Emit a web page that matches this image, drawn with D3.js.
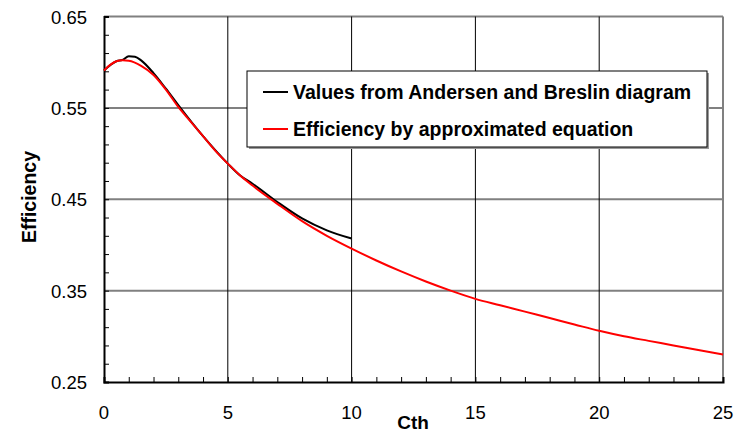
<!DOCTYPE html>
<html>
<head>
<meta charset="utf-8">
<script src="https://cdn.jsdelivr.net/npm/d3@7"></script>
<style>
  body { margin: 0; background: #fff; }
  text { font-family: "Liberation Sans", Arial, sans-serif; }
</style>
</head>
<body>
<svg id="chart" width="735" height="434"></svg>
<script>
// values
const cthBlack = [0, 0.5, 0.75, 1, 1.25, 1.5, 2, 2.5, 3, 4, 5, 5.5, 6, 7, 8, 9, 10];
const effBlack = [0.591, 0.601, 0.6025, 0.6065, 0.606, 0.602, 0.588, 0.571, 0.553, 0.519, 0.489, 0.476, 0.467, 0.447, 0.429, 0.416, 0.407];

const cthRed = [0, 0.25, 0.5, 0.75, 1, 1.5, 2, 2.5, 3, 3.5, 4, 4.5, 5, 5.5, 6, 7, 8, 9, 10, 11, 12, 13, 14, 15, 16, 17, 18, 19, 20, 21, 22, 23, 24, 25];
const effRed = [0.591, 0.597, 0.601, 0.602, 0.6015, 0.596, 0.586, 0.57, 0.551, 0.535, 0.519, 0.503, 0.489, 0.476, 0.465, 0.445, 0.426, 0.41, 0.396, 0.383, 0.371, 0.36, 0.35, 0.341, 0.334, 0.327, 0.32, 0.313, 0.306, 0.3, 0.295, 0.29, 0.285, 0.28];

const xTicks = [0, 5, 10, 15, 20, 25];
const yTicks = [0.25, 0.35, 0.45, 0.55, 0.65];
const legendLabels = ["Values from Andersen and Breslin diagram", "Efficiency by approximated equation"];

const svg = d3.select("#chart");
const margin = { top: 16.5, right: 12, bottom: 52, left: 104 };
const width = 735 - margin.left - margin.right;
const height = 434 - margin.top - margin.bottom;

const g = svg.append("g").attr("transform", `translate(${margin.left}, ${margin.top})`);

const x = d3.scaleLinear().domain([0, 25]).range([0, width]);
const y = d3.scaleLinear().domain([0.25, 0.65]).range([height, 0]);

// horizontal grid (grey)
g.selectAll(".hgrid")
  .data(yTicks.filter(d => d > 0.25))
  .enter()
  .append("line")
  .attr("x1", 0)
  .attr("x2", width)
  .attr("y1", d => y(d))
  .attr("y2", d => y(d))
  .attr("stroke", "#808080")
  .attr("stroke-width", 2);

// vertical grid (black)
g.selectAll(".vgrid")
  .data(xTicks.filter(d => d > 0 && d < 25))
  .enter()
  .append("line")
  .attr("x1", d => x(d))
  .attr("x2", d => x(d))
  .attr("y1", 0)
  .attr("y2", height)
  .attr("stroke", "#000")
  .attr("stroke-width", 1);

// right border
g.append("line")
  .attr("x1", width).attr("x2", width)
  .attr("y1", 0).attr("y2", height)
  .attr("stroke", "#808080")
  .attr("stroke-width", 2);

// axes with inward minor ticks
const xAxis = d3.axisTop(x).ticks(25).tickSize(5).tickFormat("");
const yAxis = d3.axisRight(y).tickValues(d3.range(0, 21).map(i => 0.25 + i * 0.02)).tickSize(5).tickFormat("");

const xAxisGroup = g.append("g").attr("transform", `translate(0, ${height})`).call(xAxis);
const yAxisGroup = g.append("g").call(yAxis);
[xAxisGroup, yAxisGroup].forEach(a => {
  a.select(".domain").attr("stroke", "#000").attr("stroke-width", 2);
  a.selectAll(".tick line").attr("stroke", "#000").attr("stroke-width", 1);
});

// tick labels
g.selectAll(".xlab")
  .data(xTicks)
  .enter()
  .append("text")
  .attr("x", d => x(d))
  .attr("y", height + 37)
  .attr("text-anchor", "middle")
  .attr("font-size", 18.5)
  .text(d => d);

g.selectAll(".ylab")
  .data(yTicks)
  .enter()
  .append("text")
  .attr("x", -17)
  .attr("y", d => y(d) + 7)
  .attr("text-anchor", "end")
  .attr("font-size", 18.5)
  .text(d => d.toFixed(2));

// axis titles
svg.append("text")
  .attr("x", 413)
  .attr("y", 429)
  .attr("text-anchor", "middle")
  .attr("font-size", 19)
  .attr("font-weight", "bold")
  .text("Cth");

svg.append("text")
  .attr("transform", "translate(36, 197) rotate(-90)")
  .attr("text-anchor", "middle")
  .attr("font-size", 19.5)
  .attr("font-weight", "bold")
  .text("Efficiency");

// lines
const line = d3.line()
  .x(d => x(d[0]))
  .y(d => y(d[1]))
  .curve(d3.curveMonotoneX);

g.append("path")
  .attr("d", line(d3.zip(cthBlack, effBlack)))
  .attr("fill", "none")
  .attr("stroke", "#000")
  .attr("stroke-width", 2);

g.append("path")
  .attr("d", line(d3.zip(cthRed, effRed)))
  .attr("fill", "none")
  .attr("stroke", "#ff0000")
  .attr("stroke-width", 2);

// legend
const legend = svg.append("g").attr("transform", "translate(247, 71)");
legend.append("rect")
  .attr("x", 2).attr("y", 2)
  .attr("width", 460).attr("height", 76)
  .attr("fill", "#9a9a9a");
legend.append("rect")
  .attr("width", 460).attr("height", 76)
  .attr("fill", "#fff")
  .attr("stroke", "#000")
  .attr("stroke-width", 1);

const legendColors = ["#000", "#ff0000"];
legendLabels.forEach((label, i) => {
  const ly = 21 + i * 37;
  legend.append("line")
    .attr("x1", 16).attr("x2", 41)
    .attr("y1", ly).attr("y2", ly)
    .attr("stroke", legendColors[i])
    .attr("stroke-width", 2);
  legend.append("text")
    .attr("x", 46)
    .attr("y", ly + 7)
    .attr("font-size", 19.5)
    .attr("font-weight", "bold")
    .text(label);
});
</script>
</body>
</html>
